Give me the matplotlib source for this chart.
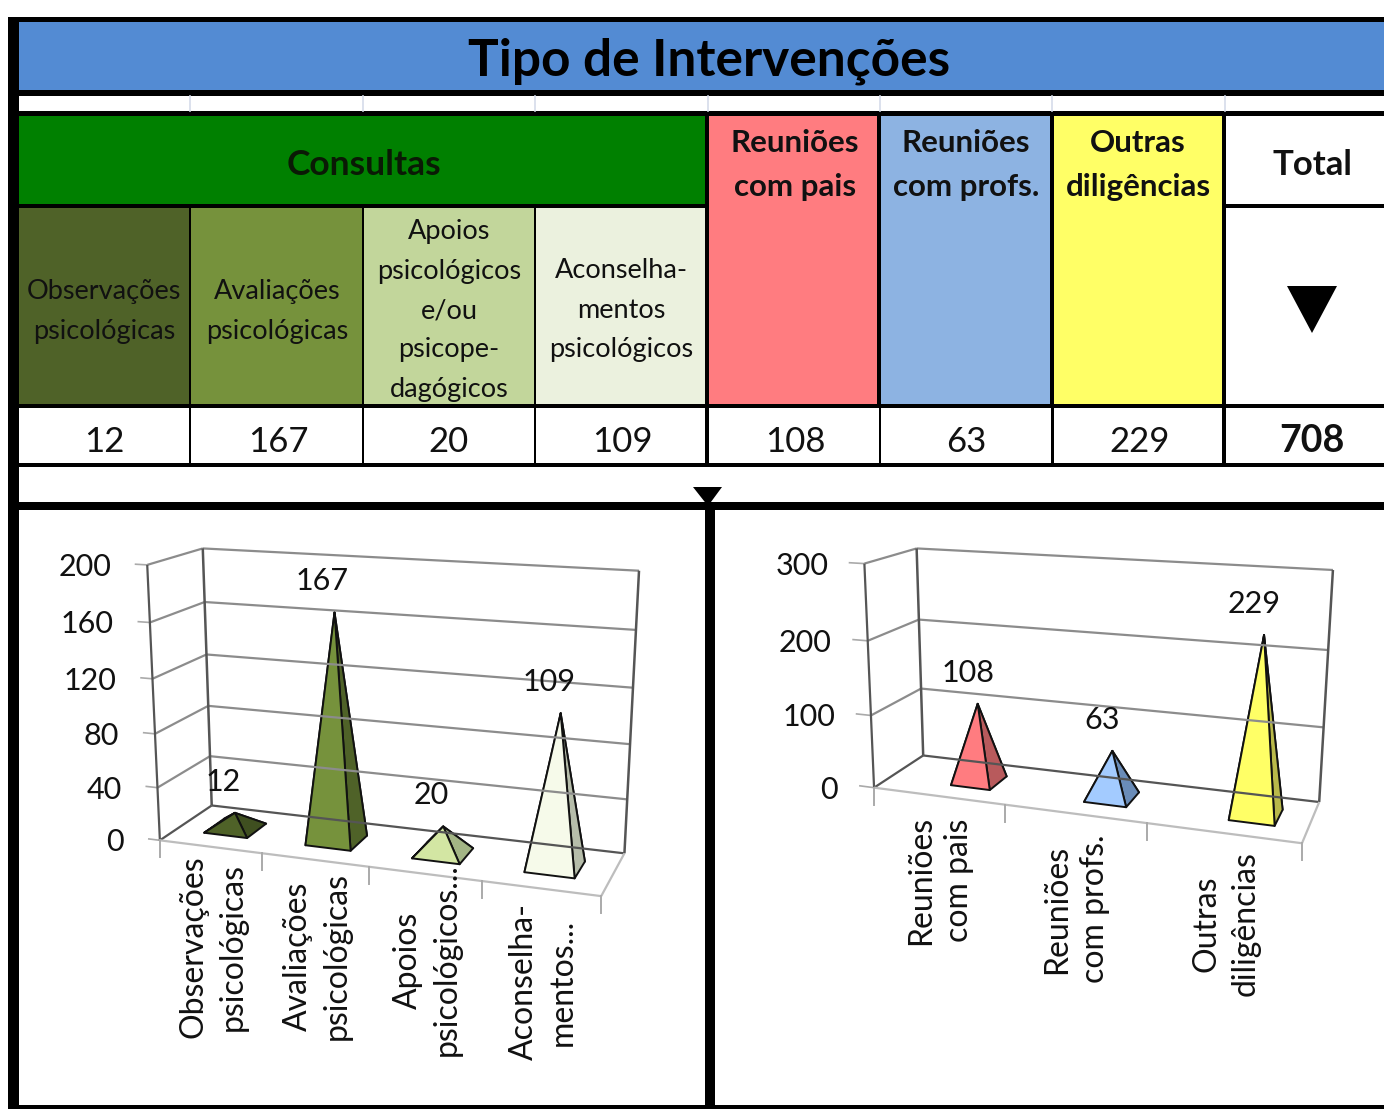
import matplotlib
matplotlib.use("Agg")
import matplotlib.pyplot as plt
import numpy as np

plt.rcParams['font.family'] = ['Lato', 'DejaVu Sans']

# values
titulo = "Tipo de Intervenções"
consultas_nomes = ["Observações\npsicológicas", "Avaliações\npsicológicas",
                   "Apoios\npsicológicos\ne/ou\npsicope-\ndagógicos",
                   "Aconselha-\nmentos\npsicológicos"]
consultas_valores = [12, 167, 20, 109]
outras_nomes = ["Reuniões\ncom pais", "Reuniões\ncom profs.", "Outras\ndiligências"]
outras_valores = [108, 63, 229]
total = 708

left_ticks = [0, 40, 80, 120, 160, 200]
right_ticks = [0, 100, 200, 300]
left_labels = ["Observações\npsicológicas", "Avaliações\npsicológicas",
               "Apoios\npsicológicos...", "Aconselha-\nmentos..."]
right_labels = ["Reuniões\ncom pais", "Reuniões\ncom profs.", "Outras\ndiligências"]

left_colors = [('#4f6228', '#3f4f20'), ('#76923c', '#4f6228'),
               ('#d3e6a3', '#a3b585'), ('#f6faea', '#b6bdaa')]
right_colors = [('#ff7c80', '#b85a5c'), ('#a3cbff', '#6a8cb8'), ('#ffff66', '#b9b94a')]

# calibration points of the two 3d boxes, pixels: (category, value, depth) -> (x, y)
left_box = [((0, 0, 0), (161, 840)), ((0, 200, 0), (147, 564)),
            ((0, 0, 1), (211, 805)), ((0, 200, 1), (203, 549)),
            ((4, 0, 1), (625, 853)), ((4, 200, 1), (639, 571)),
            ((4, 0, 0), (601, 895)), ((2, 0, 0), (368, 869))]
right_box = [((0, 0, 0), (876, 785)), ((0, 300, 0), (865, 562)),
             ((0, 0, 1), (923, 755)), ((0, 300, 1), (916, 549)),
             ((3, 0, 1), (1320, 801)), ((3, 300, 1), (1333, 571)),
             ((3, 0, 0), (1302, 841)), ((1, 0, 0), (1002, 811))]


def fit_camera(box):
    # plain DLT, 3x4 matrix from the corners
    rows = []
    for (X, Y, Z), (u, v) in box:
        rows.append([X, Y, Z, 1, 0, 0, 0, 0, -u*X, -u*Y, -u*Z, -u])
        rows.append([0, 0, 0, 0, X, Y, Z, 1, -v*X, -v*Y, -v*Z, -v])
    return np.linalg.svd(np.array(rows, dtype=float))[2][-1].reshape(3, 4)


def project(P, x, y, z):
    p = P @ np.array([x, y, z, 1.0])
    return p[0]/p[2], p[1]/p[2]


fig = plt.figure(figsize=(13.84, 11.09), dpi=100)
ax = fig.add_axes([0, 0, 1, 1])
ax.set_xlim(0, 1384)
ax.set_ylim(1109, 0)
ax.axis('off')


def rect(x0, y0, x1, y1, color):
    ax.fill([x0, x1, x1, x0], [y0, y0, y1, y1], color=color, lw=0)


def cell_text(x, y, s, size, weight='normal', color='#111111', **kw):
    ax.text(x, y, s, fontsize=size, fontweight=weight, color=color,
            ha='center', va='center', **kw)


# table frame
rect(8, 17, 1384, 1109, 'black')
rect(19, 22, 1384, 90, '#538bd3')
rect(19, 96, 1384, 111, 'white')
rect(19, 116, 705, 204, '#008000')
rect(709, 116, 877, 404, '#ff7c80')
rect(881, 116, 1050, 404, '#8db3e2')
rect(1054, 116, 1222, 404, '#ffff66')
rect(1226, 116, 1384, 204, 'white')
rect(1226, 208, 1384, 404, 'white')
for x0, x1, c in [(19, 189, '#4f6228'), (191, 362, '#76923c'),
                  (364, 534, '#c2d69b'), (536, 705, '#ebf1de')]:
    rect(x0, 208, x1, 404, c)
for x0, x1 in [(19, 189), (191, 362), (364, 534), (536, 705), (709, 879),
               (881, 1051), (1054, 1222), (1226, 1384)]:
    rect(x0, 408, x1, 463, 'white')
rect(19, 467, 1384, 502, 'white')
rect(19, 510, 705, 1105, 'white')
rect(715, 510, 1384, 1105, 'white')
for x in [190, 363, 535, 708, 880, 1052, 1225]:
    ax.plot([x, x], [96, 111], color='#d5dcea', lw=1.2)

# arrows
ax.fill([1287, 1337, 1312], [286, 286, 333], color='black', lw=0)
ax.fill([693, 722, 708], [487, 487, 506], color='black', lw=0)

# table text
cell_text(709, 61, titulo, 37, weight='bold', color='black')
cell_text(364, 165, "Consultas", 25.5, weight='bold', color='#0a1a05')
cell_text(1312, 165, "Total", 25, weight='bold')
for x, nome in zip([795, 966, 1138], outras_nomes):
    a, b = nome.split("\n")
    cell_text(x, 143, a, 22.5, weight='bold')
    cell_text(x, 187, b, 22.5, weight='bold')

row2_x = [104, 277, 449, 621]
row2_y = {2: [292, 332], 5: [231, 271, 311, 350, 390], 3: [271, 311, 350]}
for x, nome in zip(row2_x, consultas_nomes):
    linhas = nome.split("\n")
    for y, s in zip(row2_y[len(linhas)], linhas):
        cell_text(x, y, s, 19.5)

value_x = [104, 278, 449, 622, 795, 966, 1140]
for x, v in zip(value_x, consultas_valores + outras_valores):
    cell_text(x, 442, str(v), 25)
cell_text(1312, 441, str(total), 27, weight='bold')


def draw_chart(box, ticks, values, colors, labels, label_pos, shift, hw, label_dx):
    P = fit_camera(box)
    n = len(values)
    top = ticks[-1]
    grid = '#8c8c8c'
    dark = '#555555'

    def line(a, b, c=grid, lw=1.6):
        pa = project(P, *a)
        pb = project(P, *b)
        ax.plot([pa[0], pb[0]], [pa[1], pb[1]], color=c, lw=lw, solid_capstyle='butt')

    # walls and gridlines
    for t in ticks:
        c = dark if t == 0 else grid
        line((0, t, 0), (0, t, 1), c)
        line((0, t, 1), (n, t, 1), c)
        line((0, t, 0), (-0.12, t, 0), '#aaaaaa', 1.2)
        x, y = project(P, 0, t, 0)
        ax.text(x - 36, y + 2, str(t), fontsize=22, color='#111111', ha='right', va='center')
    line((0, 0, 0), (0, top, 0), dark)
    line((0, 0, 1), (0, top, 1), dark, 1.8)
    line((n, 0, 1), (n, top, 1), dark, 1.8)
    line((0, 0, 0), (n, 0, 0), '#bdbdbd')
    line((n, 0, 0), (n, 0, 1), '#bdbdbd')
    for i in range(n + 1):
        x, y = project(P, i, 0, 0)
        ax.plot([x, x], [y, y + 17], color='#aaaaaa', lw=1.4)

    # pyramids
    hd = 0.2
    for i, (v, (cf, cs)) in enumerate(zip(values, colors)):
        cx = i + 0.5 + shift
        fl = project(P, cx - hw, 0, 0.5 - hd)
        fr = project(P, cx + hw, 0, 0.5 - hd)
        br = project(P, cx + hw, 0, 0.5 + hd)
        bl = project(P, cx - hw, 0, 0.5 + hd)
        apex = project(P, cx, v, 0.5)
        for face, c in [((bl, br), cs), ((bl, fl), cs), ((fr, br), cs), ((fl, fr), cf)]:
            xs = [face[0][0], face[1][0], apex[0]]
            ys = [face[0][1], face[1][1], apex[1]]
            ax.fill(xs, ys, facecolor=c, edgecolor='#111111', lw=1.4, joinstyle='round')
        ax.text(apex[0] + label_dx, apex[1] - 31, str(v), fontsize=22, color='#111111',
                ha='center', va='center')

    # category labels
    for s, (x, y) in zip(labels, label_pos):
        ax.text(x, y, s, fontsize=23, color='#111111', rotation=90, ha='center',
                va='center', multialignment='center', linespacing=1.36)


draw_chart(left_box, left_ticks, consultas_valores, left_colors, left_labels,
           [(213, 947), (317, 956), (427, 960), (543, 982)], 0.0, 0.215, -12)
draw_chart(right_box, right_ticks, outras_valores, right_colors, right_labels,
           [(940, 880), (1076, 909), (1226, 924)], 0.14, 0.15, -10)

fig.savefig('out.png', dpi=100)
